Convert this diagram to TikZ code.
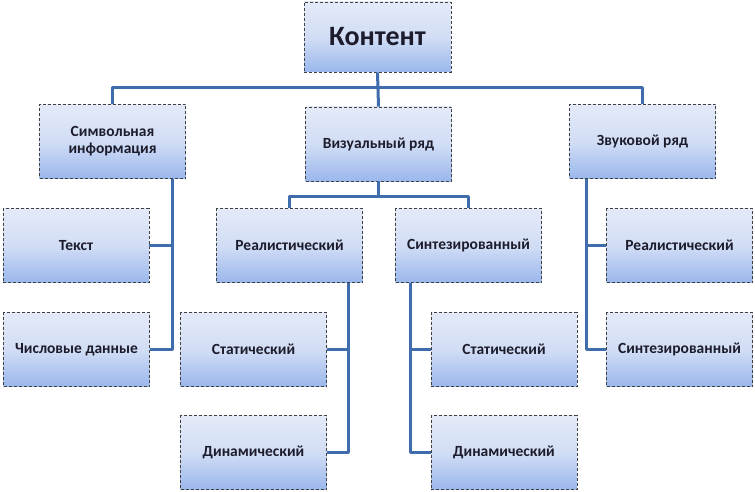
\documentclass[tikz,border=0pt]{standalone}
\usepackage{fontspec}
\setmainfont{Carlito}
\definecolor{topc}{HTML}{E4EAF8}
\definecolor{botc}{HTML}{9AB7EC}
\definecolor{linec}{HTML}{3E6CAC}
\definecolor{txtc}{HTML}{1C1C2C}
\begin{document}
\begin{tikzpicture}[x=1pt,y=-1pt,
  box/.style={draw=black!75, densely dashed, line width=0.8pt, top color=topc, bottom color=botc,
    middle color=topc!75!botc, shading angle=0,
    minimum width=146pt, minimum height=74pt, inner sep=2pt, align=center,
    font=\bfseries\fontsize{15.5}{17}\selectfont, text=txtc},
  conn/.style={draw=linec, line width=3pt, line join=round}]
\useasboundingbox (0,0) rectangle (755,492);
\node[box, minimum width=147pt, minimum height=70pt, font=\bfseries\fontsize{28}{30}\selectfont] (kont) at (377.5,37) {Контент};
\node[box] (sym) at (112.5,141.5) {Символьная\\информация};
\node[box] (vis) at (378.5,144) {Визуальный ряд};
\node[box] (snd) at (642.5,141.5) {Звуковой ряд};
\node[box] (txt) at (76,245.5) {Текст};
\node[box] (num) at (76.5,349.5) {Числовые данные};
\node[box] (real) at (289.5,245.5) {Реалистический};
\node[box] (syn) at (468.5,245.5) {Синтезированный};
\node[box] (st1) at (253.5,349.5) {Статический};
\node[box] (dy1) at (253.5,452.5) {Динамический};
\node[box] (st2) at (504,349.5) {Статический};
\node[box] (dy2) at (504,452.5) {Динамический};
\node[box] (real2) at (679.5,245.5) {Реалистический};
\node[box] (syn2) at (679.5,349.5) {Синтезированный};
% top level
\coordinate (bus1) at (377.5,88);
\draw[conn] (kont.south) -- (vis.north);
\draw[conn] (sym.north) |- (bus1) -| (snd.north);
% symbolic
\coordinate (t1) at ([xshift=-13pt]sym.south east);
\draw[conn] (t1) |- (num.east);
\draw[conn] (txt.east) -- (txt.east -| t1);
% visual
\coordinate (bus2) at ([yshift=-15pt]vis.south);
\draw[conn] (vis.south) -- (bus2);
\draw[conn] (real.north) |- (bus2) -| (syn.north);
% realistic
\coordinate (t2) at ([xshift=-14pt]real.south east);
\draw[conn] (t2) |- (dy1.east);
\draw[conn] (st1.east) -- (st1.east -| t2);
% synthesized
\coordinate (t3) at ([xshift=15pt]syn.south west);
\draw[conn] (t3) |- (dy2.west);
\draw[conn] (st2.west) -- (st2.west -| t3);
% sound
\coordinate (t4) at ([xshift=17pt]snd.south west);
\draw[conn] (t4) |- (syn2.west);
\draw[conn] (real2.west) -- (real2.west -| t4);
\end{tikzpicture}
\end{document}
